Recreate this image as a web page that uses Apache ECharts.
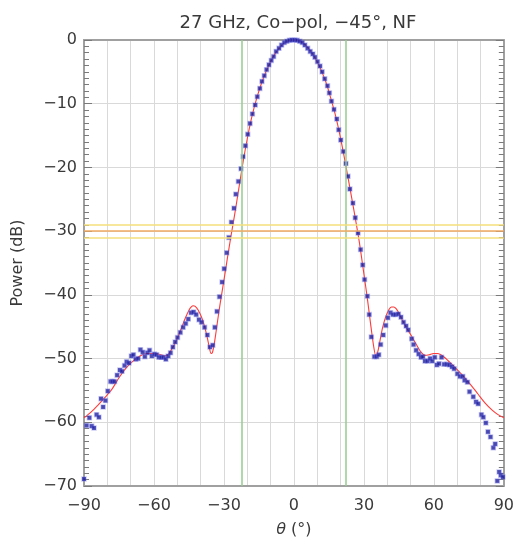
<!DOCTYPE html>
<html>
<head>
<meta charset="utf-8">
<script src="https://cdn.jsdelivr.net/npm/echarts@6/dist/echarts.min.js"></script>
<style>html,body{margin:0;padding:0;background:#fff}#c{width:517px;height:543px}</style>
</head>
<body>
<div id="c"></div>
<script>
// Measured points (theta in degrees, power in dB)
const thetaMeas = [-90,-88.9,-87.7,-86.7,-85.7,-84.6,-83.6,-82.7,-81.8,-80.8,-79.8,-78.6,-77.8,-76.9,-75.8,-74.6,-73.7,-72.6,-71.7,-70.7,-69.7,-68.8,-67.8,-66.8,-65.8,-64.8,-63.9,-62.8,-61.9,-60.9,-59.8,-58.9,-57.9,-56.9,-55.9,-54.9,-53.9,-52.9,-51.9,-50.9,-49.9,-48.7,-47.5,-46.4,-45.3,-44.1,-43.0,-41.9,-40.7,-39.6,-38.3,-37.1,-36.0,-34.8,-33.9,-33.0,-31.9,-30.8,-29.9,-28.8,-27.9,-26.8,-25.7,-24.9,-23.8,-22.7,-21.8,-20.8,-19.8,-18.8,-17.8,-16.6,-15.7,-14.6,-13.7,-12.7,-11.7,-10.7,-9.7,-8.7,-7.6,-6.4,-5.3,-4.1,-3.0,-1.9,-0.8,0.3,1.4,2.5,3.6,4.7,5.9,7.0,8.1,9.0,10.1,11.2,12.1,13.2,14.4,15.2,16.1,17.2,18.4,19.2,20.1,21.2,22.3,23.2,24.0,25.3,26.3,27.5,28.6,29.5,30.3,31.5,32.3,33.2,34.5,35.5,36.4,37.2,38.3,39.4,40.3,41.4,42.5,43.6,44.8,45.9,47.0,48.1,49.0,50.5,51.3,52.4,53.5,54.5,55.3,56.2,57.3,58.4,59.3,60.4,61.3,62.2,63.3,64.4,65.6,66.7,67.8,68.7,70.1,71.2,72.4,73.2,74.4,75.3,76.9,78.1,79.0,80.4,81.2,82.3,83.2,84.3,85.5,86.3,87.2,88.0,88.7,89.6];
const powerMeas = [-68.9,-60.5,-59.3,-60.6,-60.9,-58.8,-59.2,-56.3,-57.6,-56.6,-55.1,-53.6,-53.6,-53.6,-52.6,-51.8,-52.0,-51.1,-50.5,-50.7,-49.6,-49.4,-50.1,-50.0,-48.6,-49.0,-49.7,-49.1,-48.7,-49.6,-49.3,-49.4,-49.8,-49.8,-49.8,-50.1,-49.6,-49.1,-48.2,-47.4,-46.7,-45.9,-45.1,-44.5,-43.8,-42.8,-42.7,-43.1,-43.9,-44.3,-45.1,-46.3,-48.2,-47.9,-45.1,-42.6,-40.3,-38.0,-35.9,-33.4,-31.0,-28.6,-26.4,-24.2,-22.2,-20.2,-18.3,-16.6,-14.8,-13.1,-11.6,-10.2,-8.9,-7.6,-6.5,-5.6,-4.65,-3.9,-3.2,-2.6,-1.8,-1.3,-0.8,-0.4,-0.2,-0.05,0,0,-0.05,-0.2,-0.4,-0.8,-1.3,-1.8,-2.2,-2.7,-3.4,-4.1,-5.0,-6.1,-7.2,-8.3,-9.6,-10.9,-12.4,-14.1,-15.7,-17.5,-19.4,-21.4,-23.4,-25.6,-27.9,-30.3,-32.9,-35.3,-37.6,-40.2,-43.1,-46.6,-49.7,-49.7,-49.4,-47.8,-46.3,-44.8,-43.6,-42.8,-43.1,-43.1,-43.0,-43.5,-44.3,-44.9,-45.5,-46.9,-47.8,-48.7,-49.3,-49.8,-49.7,-50.4,-50.4,-50.0,-50.4,-49.8,-51.0,-50.8,-49.8,-50.9,-50.9,-51.0,-51.3,-51.6,-52.4,-52.8,-52.8,-53.4,-53.7,-55.2,-56.0,-56.8,-57.1,-58.8,-59.2,-60.1,-61.5,-62.3,-64.0,-63.4,-69.2,-67.8,-68.3,-68.6];

// Model curve (red)
const thetaModel = [-90,-87,-84,-81,-78,-75,-72,-69,-66,-63,-60,-57,-55.5,-54,-52.5,-51,-49.5,-48,-46.5,-45,-44,-43.2,-42.3,-41,-39.5,-38.3,-37.2,-36.3,-35.5,-34.9,-34.2,-33.3,-32.3,-31.2,-30,-28.5,-27,-25.5,-24,-22,-20,-18,-16,-14,-12,-10,-8,-6,-4,-2,0,2,4,6,8,10,12,14,16,18,20,22,24,26,28,30,31.5,33,34.2,35.1,35.9,36.8,38,39.3,40.6,41.8,42.8,43.9,45.2,46.8,48.5,50.5,52.5,54.5,56.2,58,59.8,61.5,63,64.5,66,68,70.4,73,76,79,82,85,87.5,90];
const powerModel = [-59.3,-58.4,-57.3,-56.1,-54.8,-53.0,-51.5,-50.4,-49.6,-49.2,-49.2,-49.4,-49.6,-49.4,-48.6,-47.6,-46.4,-45.0,-43.6,-42.4,-41.9,-41.7,-41.8,-42.4,-43.6,-45.0,-46.6,-48.2,-49.2,-49.0,-47.8,-45.6,-43.0,-40.4,-37.7,-34.2,-30.8,-27.6,-24.2,-19.6,-15.5,-12.0,-9.2,-6.9,-5.0,-3.4,-2.1,-1.15,-0.45,-0.1,0,-0.1,-0.45,-1.2,-2.2,-3.4,-5.0,-6.9,-9.4,-12.1,-15.4,-19.2,-23.2,-27.3,-31.6,-36.7,-40.6,-44.9,-48.1,-49.5,-49.0,-47.4,-45.2,-43.5,-42.4,-41.9,-41.9,-42.2,-43.0,-44.2,-45.3,-46.5,-47.8,-49.0,-49.5,-49.4,-49.2,-49.2,-49.4,-49.8,-50.3,-51.0,-51.9,-52.9,-54.2,-55.6,-57.0,-58.1,-58.8,-59.3];

// Reference lines
const beamEdges = [-22.2, 22.2];
const levelLines = [-29, -30, -31];
const levelColors = ['#f3df7c', '#f2aa63', '#f3df7c'];

// Axis tick labels
const xTickLabels = [-90, -60, -30, 0, 30, 60, 90];
const yTickLabels = [0, -10, -20, -30, -40, -50, -60, -70];

const fmt = v => (v < 0 ? '\u2212' + Math.abs(v) : String(v));
const FONT = 'DejaVu Sans';
const TXT = '#3a3a3a';
const AX = '#a0a0a0';
const TICK = '#7a7a7a';

function tickAxis(pos) {
  return {
    type: 'value', min: -70, max: 0, interval: 10, position: pos,
    axisLine: {show: true, onZero: false, lineStyle: {color: AX, width: 2}},
    axisTick: {show: true, inside: true, length: 8, lineStyle: {color: TICK}},
    minorTick: {show: true, splitNumber: 10, length: 5, lineStyle: {color: TICK}},
    axisLabel: {show: false}, splitLine: {show: false}
  };
}

const chart = echarts.init(document.getElementById('c'));
chart.setOption({
  animation: false,
  title: {
    text: '27 GHz, Co\u2212pol, \u221245\u00b0, NF',
    left: 293, top: 9, textAlign: 'center',
    textStyle: {fontFamily: FONT, fontSize: 18, fontWeight: 'normal', color: TXT}
  },
  grid: {left: 84, right: 11, top: 40, bottom: 55},
  xAxis: [{
    type: 'value', min: -90, max: 90, interval: 10,
    name: '{i|\u03b8} (\u00b0)', nameLocation: 'middle', nameGap: 36,
    nameTextStyle: {fontFamily: FONT, fontSize: 16, color: TXT,
      rich: {i: {fontFamily: FONT, fontStyle: 'italic', fontSize: 16, color: TXT}}},
    axisLine: {show: true, onZero: false, lineStyle: {color: AX, width: 2}},
    axisTick: {show: false},
    axisLabel: {fontFamily: FONT, fontSize: 16, color: TXT, margin: 12,
      formatter: v => (xTickLabels.indexOf(v) >= 0 ? fmt(v) : '')},
    splitLine: {show: true, lineStyle: {color: '#d9d9d9', width: 1}}
  }, {
    type: 'value', min: -90, max: 90, position: 'top',
    axisLine: {show: true, onZero: false, lineStyle: {color: AX, width: 2}},
    axisTick: {show: false}, axisLabel: {show: false}, splitLine: {show: false}
  }],
  yAxis: [{
    type: 'value', min: -70, max: 0, interval: 10, position: 'left',
    name: 'Power (dB)', nameLocation: 'middle', nameGap: 58, nameRotate: 90,
    nameTextStyle: {fontFamily: FONT, fontSize: 16, color: TXT},
    axisLine: {show: true, onZero: false, lineStyle: {color: AX, width: 2}},
    axisTick: {show: false},
    axisLabel: {fontFamily: FONT, fontSize: 16, color: TXT, margin: 7,
      formatter: v => (yTickLabels.indexOf(v) >= 0 ? fmt(v) : '')},
    splitLine: {show: true, lineStyle: {color: '#d9d9d9', width: 1}}
  }, tickAxis('left'), tickAxis('right')],
  series: [{
    name: 'model', type: 'line', z: 3,
    data: thetaModel.map((t, i) => [t, powerModel[i]]),
    smooth: 0.3, showSymbol: false, symbol: 'none',
    lineStyle: {color: '#ff3b3b', width: 1.1},
    markLine: {
      silent: true, symbol: ['none', 'none'], label: {show: false}, animation: false,
      data: beamEdges.map(v => ({xAxis: v, lineStyle: {color: '#94cc8e', width: 1.5, type: 'solid'}}))
        .concat(levelLines.map((v, i) => ({yAxis: v, lineStyle: {color: levelColors[i], width: 1.5, type: 'solid'}})))
    }
  }, {
    name: 'measured', type: 'scatter', z: 4,
    data: thetaMeas.map((t, i) => [t, powerMeas[i]]),
    symbol: 'rect', symbolSize: 4,
    itemStyle: {color: '#1a1a9a', borderColor: 'rgba(110,110,225,0.45)', borderWidth: 1.5}
  }]
});
</script>
</body>
</html>
